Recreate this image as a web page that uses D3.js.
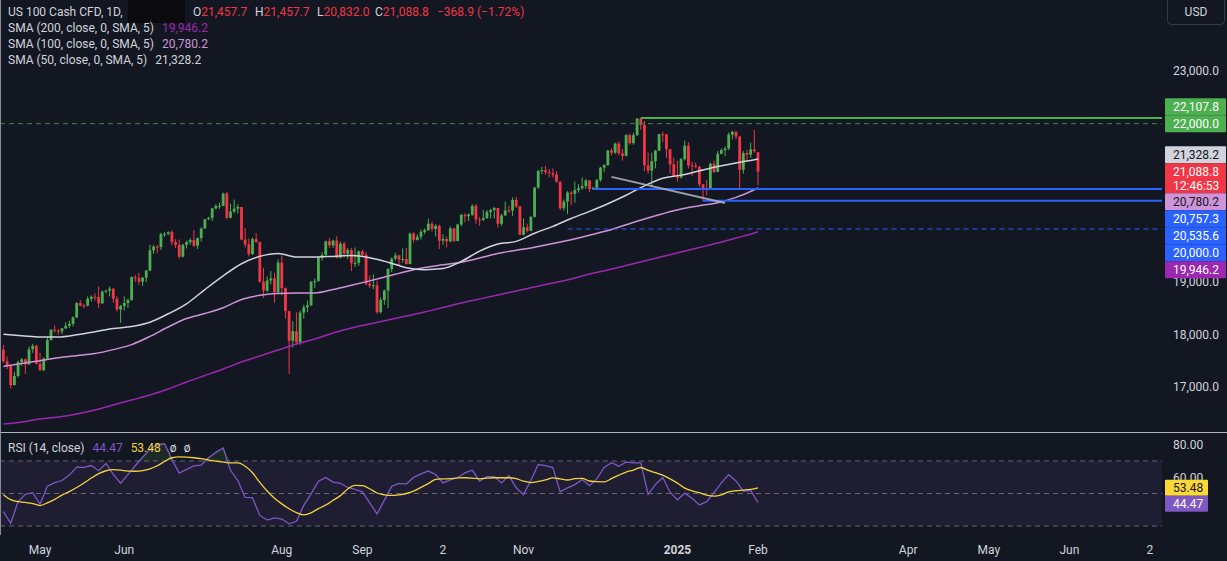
<!DOCTYPE html>
<html><head><meta charset="utf-8"><title>US 100 Cash CFD</title>
<script src="https://cdn.jsdelivr.net/npm/d3@7/dist/d3.min.js"></script>
<style>
html,body{margin:0;padding:0;background:#131722;}
svg{display:block;}
text{font-family:Roboto,"Noto Sans",sans-serif;}
</style></head><body>
<svg id="chart" width="1227" height="561"></svg>
<script>
// ---------------- DATA ----------------
const calendarStart = "2024-04-17";
const calendarEnd = "2025-07-31";
const marketClosed = ["2024-12-25", "2025-01-01"];

const opens = [
17710,17490,17395,17037,17210,17471,17526,17430,17718,17783,
17441,17321,17541,17891,18087,18069,18055,18114,18161,18199,
18322,18593,18547,18546,18674,18713,18705,18587,18809,18830,
18866,18675,18472,18537,18595,18650,19087,19067,19000,19074,
19210,19596,19664,19659,19903,19908,19940,19753,19700,19473,
19701,19751,19790,19683,19828,20011,20186,20210,20392,20439,
20440,20676,20212,20331,20386,20418,19799,19707,19523,19807,
19751,18997,18830,19023,19060,18797,19362,18879,18440,17877,
18060,17848,18413,18513,18551,18999,19012,19458,19508,19767,
19690,19780,19456,19720,19531,19603,19352,19355,19575,19510,
18959,18921,18930,18421,18651,18830,19239,19438,19498,19419,
19430,19336,19915,19793,19852,19944,19979,20099,20000,20061,
19777,19810,19765,20013,19773,20086,20267,20242,20272,20439,
20181,20174,20207,20324,20361,20398,20100,20257,20352,20351,
20551,20428,19890,20033,19966,20229,20786,21102,21118,21079,
21063,21035,20898,20394,20519,20692,20667,20740,20775,20813,
20922,20758,20780,20930,21165,21212,21491,21448,21622,21437,
21387,21782,21631,21781,22097,21977,21209,21110,21289,21489,
21799,21797,21514,21228,21012,20975,21326,21581,21208,21201,
21180,20848,20757,20743,21238,21084,21427,21500,21527,21792,
21843,21756,21124,21443,21412,21511,21457.7];
const highs = [
17800,17580,17420,17290,17500,17550,17540,17770,17820,17800,
17650,17560,17950,18100,18170,18100,18125,18230,18260,18340,
18610,18650,18580,18720,18740,18780,18910,18830,18850,18910,
18880,18720,18560,18720,18680,19100,19130,19170,19090,19220,
19700,19700,19700,19930,19940,19960,19980,19810,19800,19720,
19780,19830,19980,19840,20030,20190,20230,20400,20470,20500,
20690,20700,20480,20560,20470,20420,20020,19820,19840,19920,
19760,19260,19100,19200,19170,19420,19500,18890,18450,18250,
18420,18450,18560,18640,19010,19060,19480,19560,19780,19830,
19800,19860,19760,19760,19640,19640,19650,19590,19600,19560,
19120,19140,19020,18700,18850,19260,19460,19550,19510,19630,
19640,19930,19940,19900,19990,20010,20200,20140,20090,20080,
19900,19860,20050,20020,20100,20290,20300,20300,20470,20480,
20220,20360,20360,20380,20420,20400,20290,20520,20440,20600,
20610,20440,20200,20100,20250,20800,21120,21180,21200,21140,
21150,21100,20900,20560,20720,20720,20900,20850,20980,20950,
20930,20800,20950,21180,21230,21500,21530,21640,21660,21520,
21800,21810,21830,22107.8,22100,22050,21450,21450,21500,21810,
21850,21800,21520,21350,21300,21350,21680,21650,21280,21260,
21200,20860,20930,21260,21300,21480,21530,21570,21830,21870,
21860,21760,21480,21500,21640,21880,21457.7];
const lows = [
17460,17340,16970,17030,17180,17400,17250,17420,17650,17430,
17300,17300,17530,17880,18030,17990,18000,18100,18120,18150,
18310,18530,18490,18530,18620,18640,18500,18580,18780,18720,
18600,18430,18220,18450,18500,18640,18990,18940,18920,18990,
19200,19530,19540,19600,19850,19880,19690,19640,19440,19460,
19630,19700,19660,19620,19760,20000,20170,20150,20370,20380,
20430,20180,20200,20300,20290,19790,19650,19480,19510,19740,
18980,18690,18800,18950,18600,18780,18740,18300,17250,17750,
17800,17800,18300,18420,18540,18880,19000,19400,19470,19640,
19640,19440,19440,19460,19430,19200,19280,19300,19480,18930,
18880,18860,18390,18400,18560,18500,19180,19400,19300,19360,
19320,19330,19740,19780,19800,19900,19960,19950,19860,19620,
19700,19650,19750,19750,19770,20050,20130,20150,20250,20100,
20060,20150,20190,20200,20200,20030,20060,20250,20310,20250,
20400,19880,19880,19930,19960,20220,20760,21040,21030,20980,
20980,20880,20360,20350,20280,20450,20500,20690,20740,20760,
20700,20740,20750,20900,21080,21200,21400,21420,21400,21300,
21380,21600,21600,21770,21880,21100,21050,20790,21150,21480,
21650,21350,21050,20990,20900,20960,21300,21150,21010,21150,
20800,20535.6,20640,20740,21060,21080,21420,21380,21500,21700,
21700,20760,21050,21280,21350,21450,20832.0];
const closes = [
17490,17395,17037,17210,17471,17526,17430,17718,17783,17441,
17321,17541,17891,18087,18069,18055,18114,18161,18199,18322,
18593,18547,18546,18674,18713,18705,18587,18809,18830,18866,
18675,18472,18537,18595,18650,19087,19067,19000,19074,19210,
19596,19664,19659,19903,19908,19940,19753,19700,19473,19701,
19751,19790,19683,19828,20011,20186,20210,20392,20439,20440,
20676,20212,20331,20386,20418,19799,19707,19523,19807,19751,
18997,18830,19023,19060,18797,19362,18879,18440,17877,18060,
17848,18413,18513,18551,18999,19012,19458,19508,19767,19690,
19780,19456,19720,19531,19603,19352,19355,19575,19510,18959,
18921,18930,18421,18651,18830,19239,19438,19498,19419,19430,
19336,19915,19793,19852,19944,19979,20099,20000,20061,19777,
19810,19765,20013,19773,20086,20267,20242,20272,20439,20181,
20174,20207,20324,20361,20398,20100,20257,20352,20351,20551,
20428,19890,20033,19966,20229,20786,21102,21118,21079,21063,
21035,20898,20394,20519,20692,20667,20740,20775,20813,20922,
20758,20780,20930,21165,21212,21491,21448,21622,21437,21387,
21782,21631,21781,22097,21977,21209,21110,21289,21489,21799,
21797,21514,21228,21012,20975,21326,21581,21208,21201,21180,
20848,20757,20743,21238,21084,21427,21500,21527,21792,21843,
21756,21124,21443,21412,21511,21478,21088.8];

// moving averages, one reading every smaStep bars (last reading = last bar)
const smaStep = 5;
const sma50 = [18000,17975,17950,17949,17990,18050,18110,18150,18230,18390,
18580,18850,19110,19340,19480,19535,19468,19468,19480,19495,
19455,19370,19265,19228,19250,19385,19580,19715,19765,19920,
20050,20200,20335,20480,20640,20820,20965,21023,21105,21185,
21255,21315,21328.2];
const sma100 = [17390,17445,17500,17555,17595,17635,17710,17805,17960,18140,
18300,18395,18505,18660,18740,18775,18785,18785,18850,18930,
19015,19105,19195,19270,19320,19370,19450,19535,19595,19655,
19725,19795,19880,19970,20080,20190,20290,20380,20440,20500,
20600,20745,20780.2];
const sma200 = [16298,16336,16393,16430,16487,16563,16658,16753,16848,16962,
17095,17218,17342,17475,17589,17703,17817,17911,18025,18120,
18196,18272,18348,18424,18510,18595,18671,18747,18823,18899,
18975,19051,19146,19222,19307,19392,19478,19563,19649,19734,
19829,19924,19946.2];

// RSI(14) and its moving average, one reading every rsiStep bars
const rsiStep = 2;
const rsiValues = [38.9,31.7,45,49.5,50.5,43.5,54.5,56.7,58,61.3,
66.2,66.1,67.2,64,68.5,61.8,56.3,61.6,67.1,72.3,
77.1,80,80.6,71,62.6,64.8,67,67.5,72,75.3,
78,64.3,58,47.6,47.4,36.5,33.6,35,34.3,31.3,
32.9,42.7,49.8,57.6,59.8,57,56.3,53.7,52.5,51,
44.3,37.4,45.9,54.4,56.2,55.8,59.9,62.1,63.8,61.7,
56.5,58.4,59.7,62.7,64.4,57.6,60.4,60.4,56.5,61,
53.5,49.3,58.2,67.8,67.2,66,51,53.5,55.5,58.6,
54.8,59,66,69,66.8,69.3,68.9,68.8,49.5,55.6,
59.8,50.8,46.1,50.2,47.1,43,45,50.6,56.5,61.6,
57.7,51.4,51.9,44.47];
const rsiMaValues = [49.3,46.2,45,44.5,43.8,42.6,44.2,46.4,49,51.2,
53.7,56.5,59.5,62.2,64,64.7,64.4,63.8,63.7,64.1,
65.2,67.1,69.7,72,72.5,72.4,72,71.4,70.6,69.9,
69.3,68.8,68.8,66.8,62.8,56.8,51.5,47.1,43.6,40.6,
38.2,36.8,38.1,40.7,42.9,45.8,48.7,52.8,55,54.9,
52.9,50.3,49.2,48.8,49.2,50,51.5,53.8,56.1,58.7,
59,59.1,59.6,59.7,59.5,59,59.5,59.7,59.7,59.7,
59.1,57.6,56.7,57.4,58.4,59.6,59,58.3,59.1,59.3,
57.7,57.3,57.1,59.2,61.3,63.2,64.4,66,64.2,62.8,
61.3,59,56.4,53.3,51.6,50.5,49,48.4,49.2,51,
51.7,52.1,52.6,53.48];

// price levels drawn on the chart
const levelPrices = [22107.8, 22000.0, 20757.3, 20535.6, 20000.0];
const levelStarts = ["2024-12-17", null, "2024-11-28", "2025-01-13", "2024-11-19"];
const trendDates = ["2024-12-05", "2025-01-21"];
const trendPrices = [20990, 20495];

const priceTicks = [17000, 18000, 19000, 20000, 21000, 22000, 23000];
const rsiTicks = [40, 60, 80];
const rsiLevels = [70, 50, 30];
const timeTickDates = ["2024-05-01","2024-06-03","2024-08-01","2024-09-02","2024-10-02","2024-11-01",
                       "2025-01-02","2025-02-03","2025-04-01","2025-05-01","2025-06-02","2025-07-02"];
const timeTickLabels = ["May","Jun","Aug","Sep","2","Nov","2025","Feb","Apr","May","Jun","2"];

const symbolTitle = "US 100 Cash CFD, 1D,";
const ohlcLetters = ["O","H","L","C"];
const lastOHLC = [21457.7, 21457.7, 20832.0, 21088.8];
const lastChange = -368.9, lastChangePct = -1.72;
const countdown = "12:46:53";
const smaTitles = ["SMA (200, close, 0, SMA, 5)", "SMA (100, close, 0, SMA, 5)", "SMA (50, close, 0, SMA, 5)"];

// ---------------- STYLE ----------------
const C = {
  bg:"#131722", text:"#d1d4dc", up:"#4caf50", down:"#f23645",
  s50:"#d1d4dc", s100:"#ce93d8", s200:"#9c27b0",
  green:"#4caf50", greenDash:"#3d8f41", blue:"#2962ff", trend:"#b2b5be",
  rsi:"#7e57c2", rsiMa:"#f5d33b", grid:"#787b86"
};

const svg = d3.select("#chart");
const W = 1227, H = 561, plotR = 1162, sepY = 432, rsiBottom = 535;

svg.append("rect").attr("width",W).attr("height",H).attr("fill",C.bg);

// trading calendar (categories)
const days = [];
for (let d = new Date(calendarStart+"T00:00:00Z"); d <= new Date(calendarEnd+"T00:00:00Z"); d.setUTCDate(d.getUTCDate()+1)) {
  const wd = d.getUTCDay(), s = d.toISOString().slice(0,10);
  if (wd > 0 && wd < 6 && !marketClosed.includes(s)) days.push(s);
}
const idx = s => days.indexOf(s);
const N = closes.length;
const last = N - 1;

const x = d3.scaleLinear().domain([0, last]).range([3.4, 758]);
const y = d3.scaleLinear().domain([17000, 23000]).range([387, 71]);
const yr = d3.scaleLinear().domain([30, 70]).range([526, 461]);

const defs = svg.append("defs");
defs.append("clipPath").attr("id","clipP").append("rect").attr("x",0).attr("y",0).attr("width",plotR).attr("height",sepY);
defs.append("clipPath").attr("id","clipR").append("rect").attr("x",0).attr("y",sepY+1).attr("width",plotR).attr("height",rsiBottom-sepY-1);

// ---------------- PRICE PANE ----------------
const gP = svg.append("g").attr("clip-path","url(#clipP)");

const lines = levelPrices.map((p,k)=>({p, start: levelStarts[k]}));
const lineStyle = [
  {c:C.green, w:2, dash:null},
  {c:C.greenDash, w:1, dash:"5,4"},
  {c:C.blue, w:2, dash:null},
  {c:C.blue, w:2, dash:null},
  {c:C.blue, w:1, dash:"5,4"}
];

// candles
const bw = 2.8;
const gC = gP.append("g");
gC.selectAll("line.wick").data(d3.range(N)).join("line")
  .attr("class","wick")
  .attr("x1",i=>x(i)).attr("x2",i=>x(i))
  .attr("y1",i=>y(highs[i])).attr("y2",i=>y(lows[i]))
  .attr("stroke",i=>closes[i]>=opens[i]?C.up:C.down).attr("stroke-width",1);
gC.selectAll("rect.body").data(d3.range(N)).join("rect")
  .attr("class","body")
  .attr("x",i=>x(i)-bw/2).attr("width",bw)
  .attr("y",i=>y(Math.max(opens[i],closes[i])))
  .attr("height",i=>Math.max(1, Math.abs(y(opens[i])-y(closes[i]))))
  .attr("fill",i=>closes[i]>=opens[i]?C.up:C.down);

// SMAs
const smaIndex = k => Math.min(k*smaStep, last);
const smaLine = d3.line().x((d,k)=>x(smaIndex(k))).y(d=>y(d)).curve(d3.curveMonotoneX);
[[sma200,C.s200],[sma100,C.s100],[sma50,C.s50]].forEach(([arr,col])=>{
  gP.append("path").attr("d",smaLine(arr)).attr("fill","none").attr("stroke",col).attr("stroke-width",1.5);
});

// drawings
lines.forEach((l,k)=>{
  const st = lineStyle[k];
  gP.append("line")
    .attr("x1", l.start ? x(idx(l.start)) : 0).attr("x2", plotR)
    .attr("y1", y(l.p)).attr("y2", y(l.p))
    .attr("stroke", st.c).attr("stroke-width", st.w)
    .attr("stroke-dasharray", st.dash);
});
gP.append("line")
  .attr("x1",x(idx(trendDates[0]))).attr("y1",y(trendPrices[0]))
  .attr("x2",x(idx(trendDates[1]))).attr("y2",y(trendPrices[1]))
  .attr("stroke",C.trend).attr("stroke-width",2).attr("stroke-opacity",0.85);

// ---------------- RSI PANE ----------------
const gR = svg.append("g").attr("clip-path","url(#clipR)");
gR.append("rect").attr("x",0).attr("width",plotR).attr("y",yr(70)).attr("height",yr(30)-yr(70))
  .attr("fill","rgba(126,87,194,0.1)");
rsiLevels.forEach(v=>{
  gR.append("line").attr("x1",0).attr("x2",plotR).attr("y1",yr(v)).attr("y2",yr(v))
    .attr("stroke",C.grid).attr("stroke-width",1).attr("stroke-dasharray","5,4").attr("opacity",0.8);
});
const rsiIndex = k => Math.min(k*rsiStep, last);
const obArea = d3.area().x((d,k)=>x(rsiIndex(k))).y0(yr(70)).y1(d=>yr(Math.max(70,d)));
const osArea = d3.area().x((d,k)=>x(rsiIndex(k))).y0(yr(30)).y1(d=>yr(Math.min(30,d)));
gR.append("path").attr("d",obArea(rsiValues)).attr("fill","rgba(76,175,80,0.13)");
gR.append("path").attr("d",osArea(rsiValues)).attr("fill","rgba(242,54,69,0.13)");
gR.append("path").attr("d",d3.line().x((d,k)=>x(rsiIndex(k))).y(d=>yr(d))(rsiValues))
  .attr("fill","none").attr("stroke",C.rsi).attr("stroke-width",1.3);
gR.append("path").attr("d",d3.line().x((d,k)=>x(rsiIndex(k))).y(d=>yr(d)).curve(d3.curveMonotoneX)(rsiMaValues))
  .attr("fill","none").attr("stroke",C.rsiMa).attr("stroke-width",1.3);

// pane borders
svg.append("line").attr("x1",0).attr("x2",W).attr("y1",sepY+0.5).attr("y2",sepY+0.5)
  .attr("stroke","#b2b5be").attr("stroke-width",1);
svg.append("line").attr("x1",0.5).attr("x2",0.5).attr("y1",0).attr("y2",rsiBottom)
  .attr("stroke","#8a8e99").attr("stroke-width",1);

// ---------------- AXES ----------------
const fmtP = d3.format(",.1f");
const fmtR = d3.format(".2f");

// price scale labels with collision handling (main price label fixed)
function placeLabels(list, lineH, yfun){
  list.sort((a,b)=>yfun(a.v)-yfun(b.v));
  list.forEach(l=>{ l.h = l.lines.length===1 ? lineH : lineH*2-4; l.top = yfun(l.v) - lineH/2; });
  const a = list.findIndex(l=>l.anchor);
  for (let j=a-1;j>=0;j--) list[j].top = Math.min(list[j].top, list[j+1].top - list[j].h);
  for (let j=a+1;j<list.length;j++) list[j].top = Math.max(list[j].top, list[j-1].top + list[j-1].h);
  return list;
}
const pLabels = placeLabels([
  {v:levelPrices[0], lines:[fmtP(levelPrices[0])], bg:C.green, fg:"#ffffff"},
  {v:levelPrices[1], lines:[fmtP(levelPrices[1])], bg:C.green, fg:"#ffffff"},
  {v:sma50[sma50.length-1], lines:[fmtP(sma50[sma50.length-1])], bg:"#d1d4dc", fg:"#131722"},
  {v:closes[last], lines:[fmtP(closes[last]), countdown], bg:C.down, fg:"#ffffff", anchor:true},
  {v:sma100[sma100.length-1], lines:[fmtP(sma100[sma100.length-1])], bg:C.s100, fg:"#131722"},
  {v:levelPrices[2], lines:[fmtP(levelPrices[2])], bg:C.blue, fg:"#ffffff"},
  {v:levelPrices[3], lines:[fmtP(levelPrices[3])], bg:C.blue, fg:"#ffffff"},
  {v:levelPrices[4], lines:[fmtP(levelPrices[4])], bg:C.blue, fg:"#ffffff"},
  {v:sma200[sma200.length-1], lines:[fmtP(sma200[sma200.length-1])], bg:C.s200, fg:"#ffffff"}
], 17, y);
const rLabels = placeLabels([
  {v:rsiMaValues[rsiMaValues.length-1], lines:[fmtR(rsiMaValues[rsiMaValues.length-1])], bg:"#fdd835", fg:"#131722", anchor:true},
  {v:rsiValues[rsiValues.length-1], lines:[fmtR(rsiValues[rsiValues.length-1])], bg:C.rsi, fg:"#ffffff"}
], 16, yr);

// tick labels are hidden where a price label box sits on top of them
const covered = (yy, list) => list.some(l => yy > l.top && yy < l.top + l.h);
const gA = svg.append("g").attr("font-size",12).attr("fill",C.text);
priceTicks.filter(p=>!covered(y(p), pLabels)).forEach(p=>{
  gA.append("text").attr("x",1173).attr("y",y(p)+4.3).text(fmtP(p));
});
rsiTicks.filter(v=>!covered(yr(v), rLabels)).forEach(v=>{
  gA.append("text").attr("x",1173).attr("y",yr(v)+4.3).text(fmtR(v));
});
timeTickDates.forEach((d,k)=>{
  gA.append("text").attr("x",x(idx(d))).attr("y",554).attr("text-anchor","middle")
    .attr("font-weight", /^\d{4}$/.test(timeTickLabels[k]) ? "bold" : null)
    .text(timeTickLabels[k]);
});

// USD box
svg.append("rect").attr("x",1167.5).attr("y",-5).attr("width",57).attr("height",29.5).attr("rx",4)
  .attr("fill","none").attr("stroke","#363a45");
svg.append("text").attr("x",1196).attr("y",16).attr("text-anchor","middle").attr("font-size",12)
  .attr("fill",C.text).text("USD");

function drawLabels(list, width){
  list.forEach(l=>{
    svg.append("rect").attr("x",1165).attr("y",l.top).attr("width",width).attr("height",l.h)
      .attr("fill",l.bg).attr("rx",1);
    l.lines.forEach((t,k)=>{
      svg.append("text").attr("x",1173).attr("y",l.top + 12.6 + k*14.5)
        .attr("font-size",12).attr("fill",l.fg).text(t);
    });
  });
}
drawLabels(pLabels, 61);
drawLabels(rLabels, 43);

// ---------------- LEGENDS ----------------
const gL = svg.append("g").attr("font-size",12);
gL.append("text").attr("x",8).attr("y",16).attr("fill",C.text).text(symbolTitle);
gL.append("rect").attr("x",128).attr("y",0).attr("width",57).attr("height",23).attr("fill","#0b0b0e");
const ohlcX = [193, 255, 317, 375];
lastOHLC.forEach((v,k)=>{
  const t = gL.append("text").attr("x",ohlcX[k]).attr("y",16);
  t.append("tspan").attr("fill",C.text).text(ohlcLetters[k]);
  t.append("tspan").attr("fill",C.down).text(fmtP(v));
});
gL.append("text").attr("x",437).attr("y",16).attr("fill",C.down)
  .text(fmtP(lastChange).replace("-","−") + " (" + d3.format(".2f")(lastChangePct).replace("-","−") + "%)");
const smaLast = [sma200[sma200.length-1], sma100[sma100.length-1], sma50[sma50.length-1]];
const smaCols = [C.s200, "#ce93d8", C.text];
smaTitles.forEach((t,k)=>{
  const tt = gL.append("text").attr("x",8).attr("y",32+k*16).attr("fill",C.text).text(t);
  const end = 8 + tt.node().getComputedTextLength();
  gL.append("text").attr("x",end+8).attr("y",32+k*16).attr("fill",smaCols[k]).text(fmtP(smaLast[k]));
});
const rl = gL.append("g");
const rt = rl.append("text").attr("x",8).attr("y",452).attr("fill",C.text).text("RSI (14, close)");
let rx = 8 + rt.node().getComputedTextLength() + 8;
const rv1 = rl.append("text").attr("x",rx).attr("y",452).attr("fill",C.rsi).text(fmtR(rsiValues[rsiValues.length-1]));
rx += rv1.node().getComputedTextLength() + 8;
const rv2 = rl.append("text").attr("x",rx).attr("y",452).attr("fill",C.rsiMa).text(fmtR(rsiMaValues[rsiMaValues.length-1]));
rx += rv2.node().getComputedTextLength() + 9;
rl.append("text").attr("x",rx).attr("y",452).attr("fill",C.text).text("ø");
rl.append("text").attr("x",rx+14).attr("y",452).attr("fill",C.text).text("ø");
</script>
</body></html>
